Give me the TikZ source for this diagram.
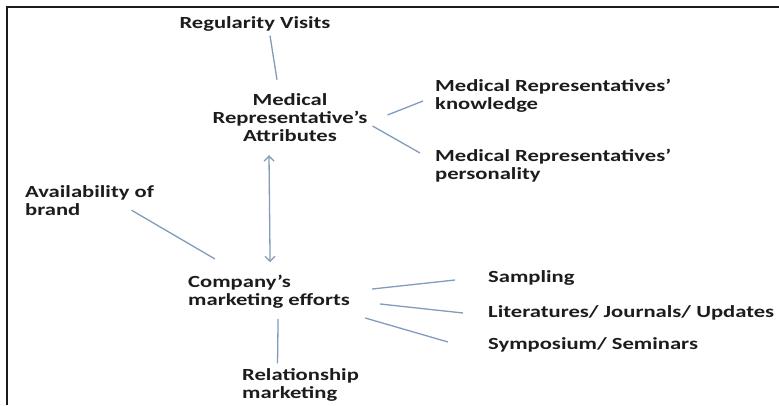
\documentclass[tikz,border=0pt]{standalone}
\usepackage{fontspec}
\setmainfont{Carlito}[FakeStretch=1.33]
\usepackage{tikz}
\usetikzlibrary{positioning}
\usetikzlibrary{arrows,arrows.meta}
\definecolor{linkblue}{RGB}{128,156,186}
\definecolor{ink}{RGB}{28,28,28}

\begin{document}
\begin{tikzpicture}[>={Straight Barb[length=5pt,width=10pt]}, x=1pt, y=-1pt, font=\fontsize{17}{18}\selectfont\bfseries, txt/.style={text=ink,inner sep=0pt,align=left}, link/.style={draw=linkblue,line width=1.3pt}, ]

	\useasboundingbox (0,0) rectangle (779,405);
	\draw[line width=2.5pt,draw=ink] (7,405) -- (7,7) -- (779,7);

	\node[txt,align=center] (0) at (255,24) {Regularity Visits};
	\node[txt,align=center] (1) at (290,118) {Medical\\Representative’s\\Attributes};
	\node[txt,anchor=west] (2) at (435,96) {Medical Representatives’\\knowledge};
	\node[txt,anchor=west] (3) at (435,166) {Medical Representatives’\\personality};
	\node[txt,anchor=west] (4) at (25,201) {Availability of\\brand};
	\node[txt,anchor=west] (5) at (188,292) {Company’s\\marketing efforts};
	\node[txt,anchor=west] (6) at (242,385) {Relationship\\marketing};
	\node[txt,anchor=west] (7) at (488,278) {Sampling};
	\node[txt,anchor=west] (8) at (488,313) {Literatures/ Journals/ Updates};
	\node[txt,anchor=west] (9) at (488,345) {Symposium/ Seminars};

	\draw[link] ([xshift=15pt,yshift=-4pt]0.south) -- ([xshift=-13pt,yshift=14pt]1.north);
	\draw[link,<->] ([xshift=-21pt,yshift=-13pt]1.south) -- ([xshift=1pt,yshift=13pt]5.north);
	\draw[link] ([xshift=20pt,yshift=3pt]1.east) -- ([xshift=-12pt,yshift=-5pt]2.west);
	\draw[link] ([xshift=5pt,yshift=-8pt]1.east) -- ([xshift=-15pt,yshift=13pt]3.west);
	\draw[link] ([xshift=42pt,yshift=6pt]4.south) -- ([xshift=27pt,yshift=33pt]5.west);
	\draw[link] ([xshift=9pt,yshift=-10pt]5.south) -- ([xshift=-23pt,yshift=5pt]6.north);
	\draw[link] ([xshift=22pt,yshift=3pt]5.east) -- ([xshift=-33pt,yshift=-2pt]7.west);
	\draw[link] ([xshift=30pt,yshift=-12pt]5.east) -- ([xshift=-25pt]8.west);
	\draw[link] ([xshift=15pt,yshift=-26pt]5.east) -- ([xshift=-40pt,yshift=3pt]9.west);

\end{tikzpicture}
\end{document}
